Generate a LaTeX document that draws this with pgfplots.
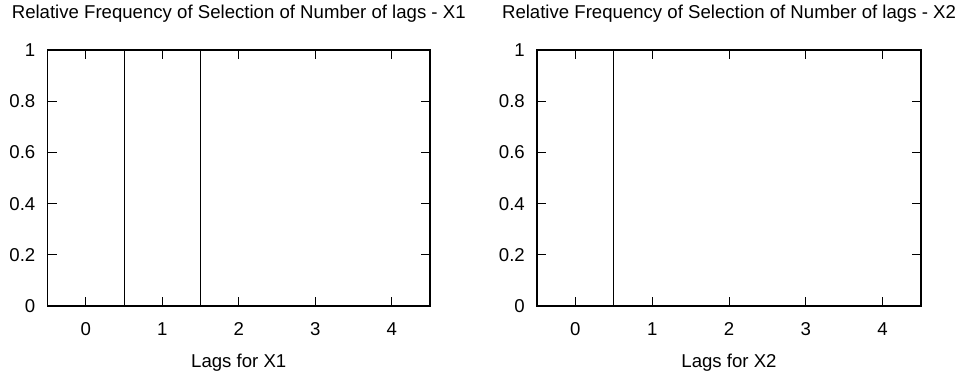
\documentclass[border=0pt]{standalone}
\usepackage{fontspec}
\setmainfont{Liberation Sans}
\usepackage{pgfplots}
\pgfplotsset{compat=1.18}
\pgfplotsset{
  lagaxis/.style={
    scale only axis,
    height=256bp,
    anchor=south west,
    xmin=-0.5, xmax=4.5,
    ymin=0, ymax=1,
    xtick={0,1,2,3,4},
    ytick={0,0.2,0.4,0.6,0.8,1},
    yticklabels={0,0.2,0.4,0.6,0.8,1},
    xticklabels={0,1,2,3,4},
    tick align=inside,
    tick pos=both,
    major tick length=9bp,
    axis line style={line width=1.2bp},
    every tick/.style={line width=1bp, black},
    font=\fontsize{18.6bp}{22bp}\selectfont,
    /pgf/number format/assume math mode=true,
    xticklabel style={anchor=base, yshift=-29bp, inner sep=0pt},
    yticklabel style={anchor=east, xshift=-12bp, inner sep=0pt},
    title style={at={(0.5,1)}, anchor=base, yshift=26bp, inner sep=0pt},
    xlabel style={at={(0.5,0)}, anchor=base, yshift=-61bp, inner sep=0pt},
    clip=false,
  }
}
\begin{document}
\begin{tikzpicture}[x=1bp,y=1bp]
\useasboundingbox (0,0) rectangle (965,376);
\begin{axis}[lagaxis, at={(47.5bp,70bp)}, width=382.5bp,
  title={Relative Frequency of Selection of Number of lags - X1},
  xlabel={Lags for X1}]
\addplot[ybar, bar width=1, bar shift=0pt, draw=black, fill=none, line width=0.8bp]
  coordinates {(0,0) (1,1) (2,0) (3,0) (4,0)};
\end{axis}
\begin{axis}[lagaxis, at={(537bp,70bp)}, width=384bp,
  title={Relative Frequency of Selection of Number of lags - X2},
  xlabel={Lags for X2}]
\addplot[ybar, bar width=1, bar shift=0pt, draw=black, fill=none, line width=0.8bp]
  coordinates {(0,1) (1,0) (2,0) (3,0) (4,0)};
\end{axis}
\end{tikzpicture}
\end{document}
